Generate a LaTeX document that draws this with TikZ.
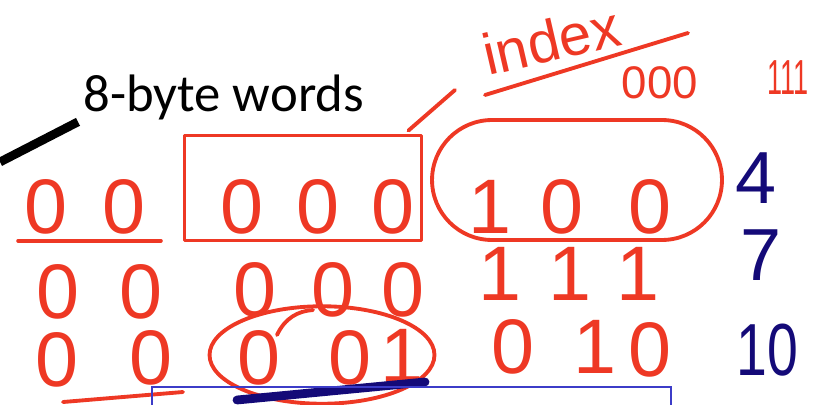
\documentclass[tikz,border=0pt]{standalone}
\usepackage{fontspec}
\usepackage{xcolor}
\usepackage{tikz}
\usetikzlibrary{arrows.meta, positioning, calc, shapes.geometric}
\newfontfamily\wordfont{Carlito}
\newfontfamily\inkfont{Liberation Sans}
\definecolor{inkred}{RGB}{238, 56, 36}
\definecolor{inknavy}{RGB}{20, 10, 120}
\definecolor{boxblue}{RGB}{60, 60, 200}

\begin{document}
\begin{tikzpicture}[x=0.02cm, y=-0.02cm, >=Stealth,
    bit/.style={text=inkred, font=\inkfont\fontsize{44}{44}\selectfont, inner sep=0pt},
    tag/.style={text=inknavy, font=\inkfont\fontsize{42}{42}\selectfont, inner sep=0pt},
    pen/.style={draw=inkred, line width=2.2pt, line cap=round, line join=round}]
    \useasboundingbox (0,0) rectangle (814,405);

    % label with its pointer
    \node[anchor=base west, inner sep=0pt, font=\wordfont\fontsize{30}{30}\selectfont] (lbl) at (83,112) {8-byte words};
    \coordinate (tail) at (0,162);
    \draw[line width=5pt] (tail) -- ($(lbl.south west)+(-5,1)$);

    % the three rows of bits
    \foreach \name/\x/\y/\d in {a1/46/207/0, a2/124/207/0, a3/242/207/0, a4/318/207/0, a5/393/207/0, a6/490/207/1, a7/562/207/0, a8/650/207/0,
        b1/58/292/0, b2/141/292/0, b3/255/290/0, b4/333/290/0, b5/403/290/0, b6/500/274/1, b7/570/274/1, b8/638/274/1,
        c1/57/360/0, c2/151/358/0, c3/259/358/0, c4/350/358/0, c5/402/356/1, c6/513/347/0, c7/595/347/1, c8/650/350/0}
        \node[bit] (\name) at (\x,\y) {\d};

    % row numbers
    \node[tag] (t4) at (756,178) {4};
    \node[tag] (t7) at (761,255) {7};
    \node[tag, xscale=0.75] (t10) at (767,350) {10};

    % index note
    \node[text=inkred, rotate=13, anchor=base west, inner sep=0pt, font=\inkfont\fontsize{33}{33}\selectfont] (idx) at (488,76) {index};
    \coordinate (u1) at (485,95);
    \coordinate (u2) at (688,33);
    \draw[pen] (u1) -- (u2);
    \node[text=inkred, inner sep=0pt, font=\inkfont\fontsize{26}{26}\selectfont] (low) at (660,83) {000};
    \node[text=inkred, inner sep=0pt, xscale=0.55, font=\inkfont\fontsize{28}{28}\selectfont] (high) at (788,78) {111};

    % groupings
    \node[pen, rectangle, minimum width=4.74cm, minimum height=2.1cm] (word) at (303,188) {};
    \node[pen, rectangle, rounded corners=1.2cm, minimum width=5.8cm, minimum height=2.4cm] (grp) at (577,180) {};
    \node[pen, ellipse, minimum width=4.5cm, minimum height=1.95cm] (sel) at (322,355) {};
    \coordinate (hook) at (455,90);
    \draw[pen] ($(word.north east)+(-15,-3)$) -- (hook);
    \draw[pen] (277,335) .. controls (285,318) and (298,311) .. (313,310);

    % underlines
    \draw[pen] ($(a1.south west)+(-6,6)$) -- ($(a2.south east)+(15,6)$);
    \draw[pen] (63,402) -- (183,392);
    \draw[inknavy, line width=5pt, line cap=round] (237,400) -- (425,382);

    % box below
    \draw[boxblue, line width=0.8pt] (152,405) -- (152,387) -- (671,387) -- (671,405);
\end{tikzpicture}
\end{document}
